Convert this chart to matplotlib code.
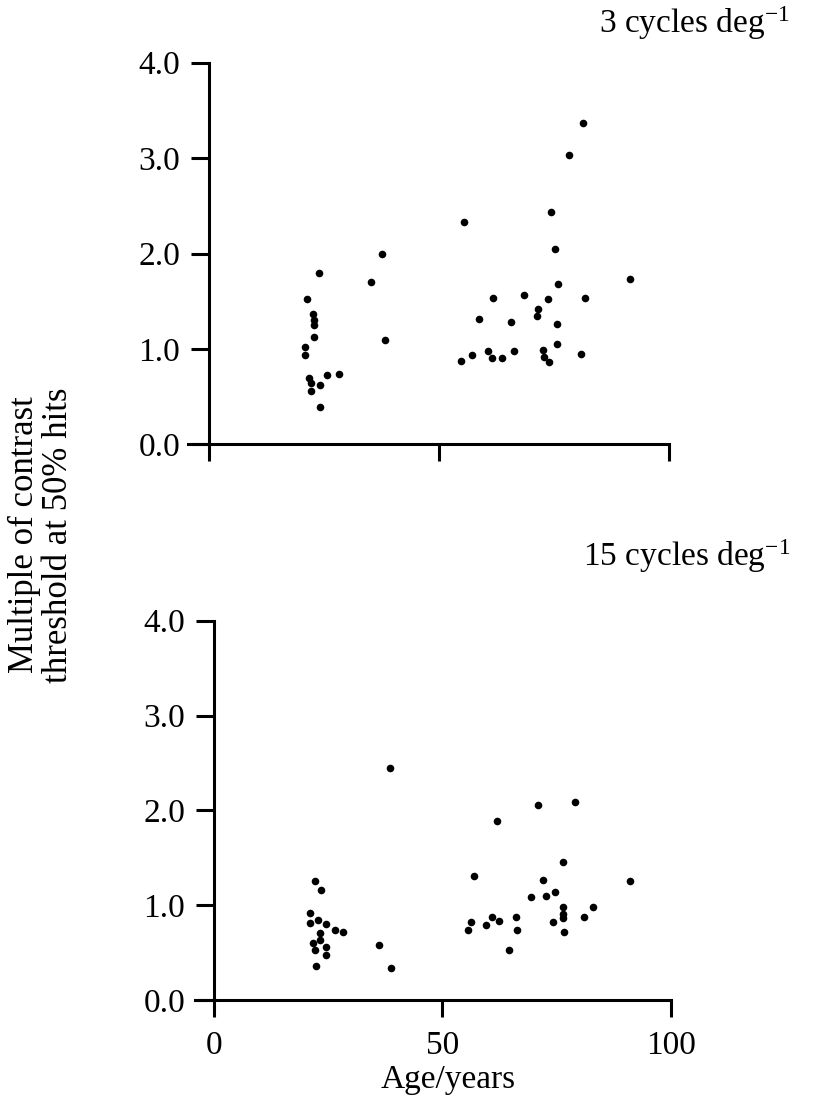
import matplotlib
matplotlib.use("Agg")
import matplotlib.pyplot as plt

plt.rcParams["font.family"] = ["Liberation Serif", "DejaVu Serif"]
plt.rcParams["mathtext.fontset"] = "custom"
plt.rcParams["mathtext.rm"] = "Liberation Serif"
plt.rcParams["mathtext.it"] = "Liberation Serif:italic"

# 3 cycles/deg: age (years) and multiple of contrast threshold at 50% hits
age_3cpd = [21.2, 22.6, 22.8, 22.8, 23.9, 22.8, 20.9, 20.9, 21.7, 22.1, 22.2,
            24.1, 25.7, 28.2, 24.1, 35.2, 37.5, 38.2, 55.3, 54.8, 57.2, 58.6,
            61.6, 60.7, 61.4, 63.7, 65.6, 66.2, 68.5, 71.4, 71.3, 73.6, 72.6,
            72.8, 73.9, 74.2, 75.2, 75.8, 75.7, 75.7, 78.3, 81.2, 81.7, 80.8,
            91.5]
mult_3cpd = [1.52, 1.37, 1.30, 1.25, 1.80, 1.12, 1.02, 0.94, 0.70, 0.64, 0.56,
             0.62, 0.73, 0.74, 0.39, 1.70, 2.00, 1.09, 2.33, 0.87, 0.94, 1.31,
             1.53, 0.98, 0.90, 0.90, 1.28, 0.98, 1.56, 1.42, 1.35, 1.52, 0.99,
             0.91, 0.86, 2.44, 2.05, 1.68, 1.26, 1.05, 3.03, 3.37, 1.53, 0.95,
             1.73]

# 15 cycles/deg
age_15cpd = [22.0, 23.4, 21.0, 20.9, 22.7, 24.5, 23.1, 26.4, 28.3, 21.6, 23.1,
             22.0, 24.5, 24.5, 22.3, 36.2, 38.8, 38.5, 55.5, 56.3, 56.9, 59.6,
             60.9, 62.4, 62.0, 64.5, 66.1, 66.4, 69.3, 70.9, 72.0, 72.7, 74.7,
             74.2, 76.4, 76.4, 76.4, 76.5, 76.7, 79.0, 81.0, 82.9, 91.0]
mult_15cpd = [1.25, 1.16, 0.92, 0.81, 0.84, 0.80, 0.71, 0.74, 0.72, 0.60, 0.63,
              0.53, 0.56, 0.47, 0.36, 0.58, 0.34, 2.45, 0.74, 0.82, 1.31, 0.79,
              0.88, 0.83, 1.89, 0.53, 0.87, 0.74, 1.09, 2.06, 1.27, 1.10, 1.14,
              0.82, 1.46, 0.98, 0.91, 0.86, 0.72, 2.09, 0.87, 0.98, 1.26]

x_ticks = [0, 50, 100]
x_tick_labels = ["0", "50", "100"]
y_ticks = [0, 1, 2, 3, 4]
y_tick_labels = ["0.0", "1.0", "2.0", "3.0", "4.0"]

fig = plt.figure(figsize=(8.15, 11.08), dpi=100)
ax_top = fig.add_axes([0.2307, 0.5990, 0.5905, 0.3444])
ax_bot = fig.add_axes([0.2393, 0.0975, 0.5837, 0.3423])


def style(ax, xmin, show_xlabels):
    ax.set_xlim(xmin, 100)
    ax.set_ylim(0, 4.0)
    for side in ("top", "right"):
        ax.spines[side].set_visible(False)
    ax.spines["left"].set_position(("data", 0))
    for side in ("left", "bottom"):
        ax.spines[side].set_linewidth(2.2)
    ax.set_xticks(x_ticks)
    ax.set_xticklabels(x_tick_labels if show_xlabels else [])
    ax.set_yticks(y_ticks)
    ax.set_yticklabels(y_tick_labels)
    ax.tick_params(axis="x", direction="out", length=12, width=2.2,
                   pad=10, labelsize=24)
    ax.tick_params(axis="y", direction="out", length=13, width=2.2,
                   pad=8, labelsize=24)


ax_top.scatter(age_3cpd, mult_3cpd, s=30, color="black", linewidths=0,
               clip_on=False, zorder=3)
ax_bot.scatter(age_15cpd, mult_15cpd, s=30, color="black", linewidths=0,
               clip_on=False, zorder=3)

style(ax_top, -4.6, False)
style(ax_bot, -4.2, True)

fig.text(0.9693, 0.9702, r"3 cycles deg$^{-1}$", ha="right", va="baseline",
         fontsize=24)
fig.text(0.9693, 0.4892, r"15 cycles deg$^{-1}$", ha="right", va="baseline",
         fontsize=24)
fig.text(0.5497, 0.018, "Age/years", ha="center", va="baseline", fontsize=24)
fig.text(0.051, 0.5172, "Multiple of contrast\nthreshold at 50% hits",
         rotation=90, ha="center", va="center", multialignment="center",
         linespacing=1.05, fontsize=25)

fig.savefig("out.png", dpi=100)
